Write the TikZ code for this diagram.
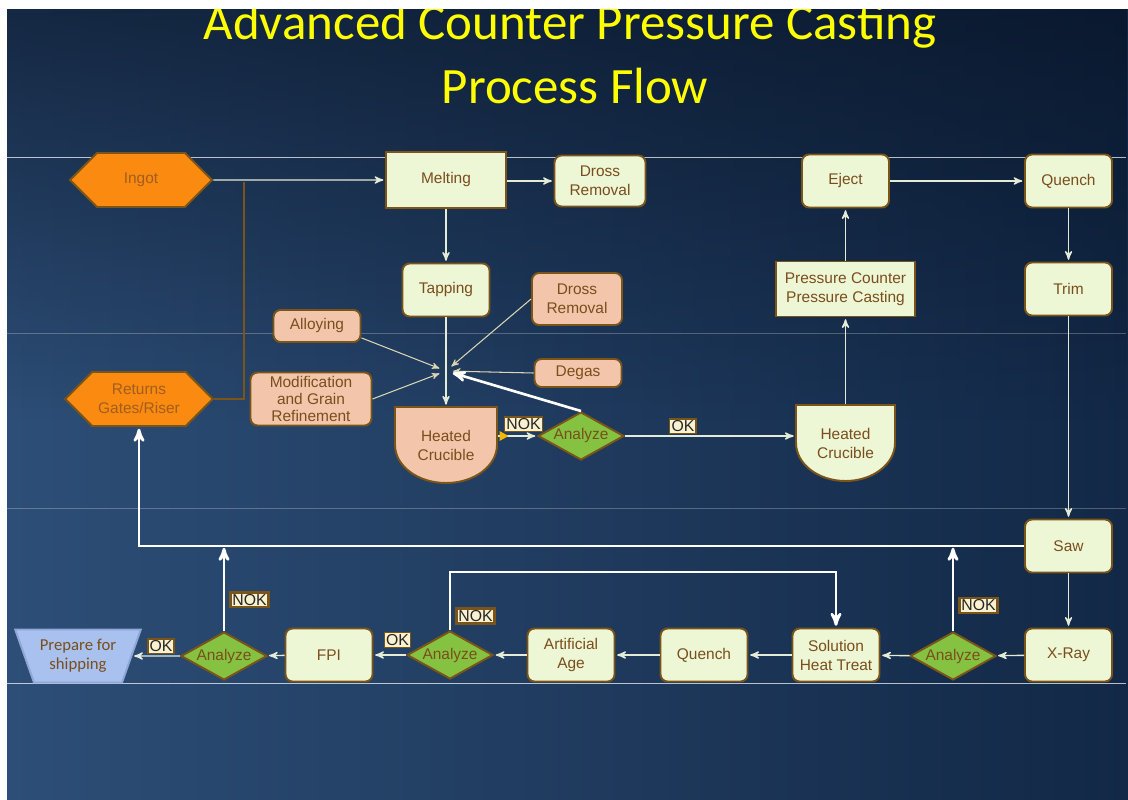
\documentclass[tikz,border=0pt]{standalone}
\usepackage{fontspec}
\setmainfont{Liberation Sans}
\newfontfamily\titlefont{Carlito}
\usetikzlibrary{arrows,shapes.geometric,shapes.symbols,fadings}

\definecolor{boxgreen}{HTML}{EDF6D5}
\definecolor{edgebrown}{HTML}{7B5518}
\definecolor{txtbrown}{HTML}{7A4E1C}
\definecolor{salmon}{HTML}{F3C6AC}
\definecolor{ingotorange}{HTML}{FA8A10}
\definecolor{hexbrown}{HTML}{A25E1E}
\definecolor{leafgreen}{HTML}{85C241}
\definecolor{shipblue}{HTML}{A9C1EF}
\definecolor{shipline}{HTML}{8FA7D6}
\definecolor{tagfill}{HTML}{F9F1CF}
\definecolor{linecol}{HTML}{E4EBD6}
\definecolor{feedcol}{HTML}{DAD5B2}
\definecolor{tipyellow}{HTML}{F5B800}
\definecolor{titleyellow}{HTML}{FFFF00}
\definecolor{bgleft}{HTML}{2D4E77}
\definecolor{bgright}{HTML}{122846}
\definecolor{bgtop}{HTML}{050F20}

\begin{document}
\begin{tikzpicture}[x=0.02cm,y=-0.02cm,->,>=stealth',shorten >=1pt,semithick,
  every node/.style={font=\fontsize{8.8}{10.8}\selectfont,text=txtbrown,align=center},
  proc/.style={rectangle,rounded corners=4pt,draw=edgebrown,line width=1.1pt,fill=boxgreen,
    minimum width=1.74cm,minimum height=1.06cm,inner sep=1pt},
  sharp/.style={proc,rounded corners=0pt},
  addin/.style={proc,fill=salmon},
  stock/.style={signal,signal to=east and west,draw=edgebrown,line width=1.1pt,fill=ingotorange,
    minimum width=2.84cm,minimum height=1.08cm,text=hexbrown},
  check/.style={diamond,aspect=1.8,draw=edgebrown,line width=1.1pt,fill=leafgreen,
    minimum width=1.72cm,minimum height=0.96cm,inner sep=0pt},
  ship/.style={trapezium,trapezium angle=67.5,shape border rotate=180,trapezium stretches=true,
    draw=shipline,line width=1.1pt,fill=shipblue,minimum width=2.22cm,minimum height=1.06cm,
    font=\titlefont\fontsize{9.5}{11}\selectfont},
  crucible/.style={-,draw=edgebrown,line width=1.1pt},
  tag/.style={draw=edgebrown,fill=tagfill,text=black!85,inner sep=1pt,font=\fontsize{9}{9}\selectfont},
  flow/.style={draw=linecol,line width=0.8pt},
  feed/.style={draw=feedcol,line width=0.6pt,shorten >=4pt},
  back/.style={draw=white,line width=1.5pt}]

  \useasboundingbox (0,0) rectangle (1128,800);
  % slide background
  \shade[left color=bgleft,right color=bgright] (7,9) rectangle (1128,800);
  \fill[bgtop,opacity=0.6,path fading=south] (7,9) rectangle (1128,420);
  \draw[-,white,opacity=0.7,line width=0.4pt] (7,157) -- (1128,157);
  \draw[-,white,opacity=0.25,line width=0.4pt] (7,333) -- (1128,333);
  \draw[-,white,opacity=0.25,line width=0.4pt] (7,508) -- (1128,508);
  \draw[-,white,opacity=0.7,line width=0.4pt] (7,683) -- (1128,683);

  \node[font=\titlefont\fontsize{29}{30}\selectfont,text=titleyellow,anchor=base] (title) at (570,40) {Advanced Counter Pressure Casting};
  \node[font=\titlefont\fontsize{29}{30}\selectfont,text=titleyellow,anchor=base] (subtitle) at (575,104) {Process Flow};
  \fill[white] (0,0) rectangle (1128,9);
  \fill[white] (0,0) rectangle (7,800);

  % crucible outlines
  \path[crucible,fill=salmon] (395,407) -- (497,407) -- (497,445)
    arc[start angle=0,end angle=-180,x radius=1.02cm,y radius=0.76cm] -- cycle;
  \path[crucible,fill=boxgreen] (796,405) -- (895,405) -- (895,443)
    arc[start angle=0,end angle=-180,x radius=0.99cm,y radius=0.76cm] -- cycle;

  \node[stock] (ingot) at (141,180) {Ingot};
  \node[sharp,minimum width=2.4cm,minimum height=1.12cm] (melt) at (446,180) {Melting};
  \node[proc,minimum width=1.82cm,minimum height=1.02cm] (dross) at (600,181) {Dross\\Removal};
  \node[proc] (eject) at (845.5,181) {Eject};
  \node[proc] (quench) at (1068.5,181) {Quench};
  \node[proc] (tap) at (446,290) {Tapping};
  \node[addin,minimum width=1.8cm,minimum height=1.04cm] (drossb) at (577,299) {Dross\\Removal};
  \node[sharp,minimum width=2.78cm,minimum height=1.1cm] (pcpc) at (845.5,289) {Pressure Counter\\Pressure Casting};
  \node[proc] (trim) at (1068.5,289) {Trim};
  \node[addin,minimum height=0.64cm] (alloy) at (317,326) {Alloying};
  \node[addin,minimum height=0.56cm] (degas) at (578,373) {Degas};
  \node[addin,minimum width=2.42cm,font=\fontsize{8.8}{9.6}\selectfont] (modif) at (311,399) {Modification\\and Grain\\Refinement};
  \node[stock] (ret) at (139,399) {Returns\\Gates/Riser};
  \node[minimum width=2.04cm,minimum height=1.52cm,inner sep=0pt] (hcl) at (446,445) {Heated\\Crucible};
  \node[check] (ana) at (581,436) {Analyze};
  \node[minimum width=1.98cm,minimum height=1.52cm,inner sep=0pt] (hcr) at (845.5,443) {Heated\\Crucible};
  \node[proc] (saw) at (1068.5,546) {Saw};
  \node[proc] (xray) at (1068.5,655) {X-Ray};
  \node[check] (anr) at (953,656) {Analyze};
  \node[proc] (sht) at (836,655) {Solution\\Heat Treat};
  \node[proc] (quenchb) at (704,655) {Quench};
  \node[proc] (age) at (571,655) {Artificial\\Age};
  \node[check] (anm) at (450,655) {Analyze};
  \node[proc] (fpi) at (329,655) {FPI};
  \node[check] (anl) at (224,656) {Analyze};
  \node[ship] (ship) at (78,656) {Prepare for\\shipping};

  \coordinate (junc) at (244,180);
  \coordinate (mix) at (446,371);
  \coordinate (lp) at (0,572);

  \draw[-,draw=edgebrown,line width=1.3pt] (ret.east) -| (junc);

  \path (ingot) edge[flow] (melt)
        (melt.east |- dross.west) edge[flow] (dross)
        (melt) edge[flow] (tap)
        (tap) edge[flow] (hcl)
        (hcl.east |- ana.west) edge[flow] node[tag,above=2pt,pos=0.66] {NOK} (ana)
        (ana) edge[flow] node[tag,above=1pt,pos=0.34] {OK} (hcr.west |- ana.east)
        (hcr) edge[flow] (pcpc)
        (pcpc) edge[flow] (eject)
        (eject) edge[flow] (quench)
        (quench) edge[flow] (trim)
        (trim) edge[flow] (saw)
        (saw) edge[flow] (xray)
        (xray) edge[flow] (anr)
        (anr) edge[flow] (sht)
        (sht) edge[flow] (quenchb)
        (quenchb) edge[flow] (age)
        (age) edge[flow] (anm)
        (anm) edge[flow] node[tag,above=4pt,pos=0.26] {OK} (fpi)
        (fpi) edge[flow] (anl)
        (anl) edge[flow] node[tag,above=1pt,pos=0.4] {OK} (ship);

  \fill[tipyellow] (hcl.east |- ana) ++(2,-5) -- ++(0,10) -- ++(9,-5) -- cycle;

  % additions into the crucible
  \path (alloy.-15) edge[feed] (mix)
        (drossb.west) edge[feed] (mix)
        (degas.west) edge[feed] (mix)
        (modif.east) edge[feed] (mix);

  % returns
  \draw[back,shorten >=4pt] (ana.north) -- (mix);
  \draw[back] (saw.west) -| (ret.south);
  \draw[back] (anr.north) -- node[tag,right=3pt,pos=0.3] {NOK} (anr.north |- saw.west);
  \draw[back] (anl.north) -- node[tag,right=3pt,pos=0.37] {NOK} (anl.north |- saw.west);
  \draw[back] (anm.north) |- node[tag,right=3pt,pos=0.12] {NOK} (lp -| sht.north) -- (sht.north);
\end{tikzpicture}
\end{document}
